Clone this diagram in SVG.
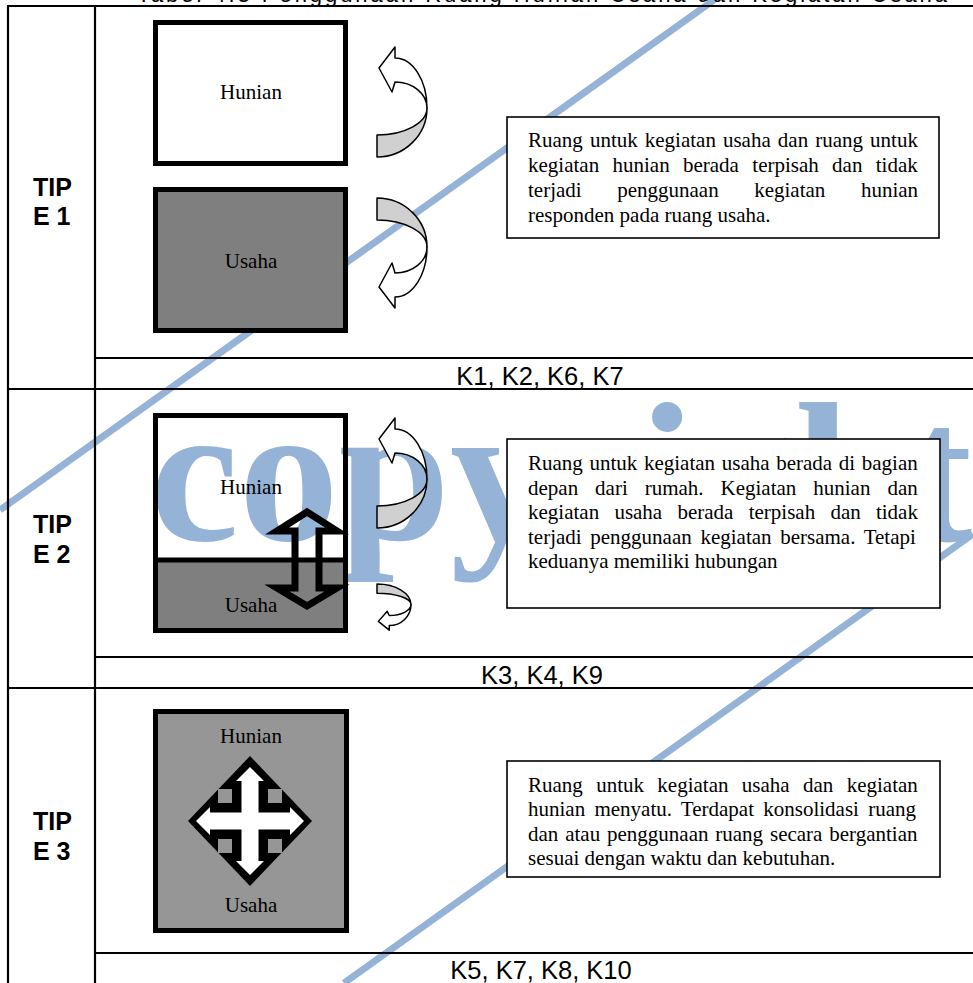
<svg xmlns="http://www.w3.org/2000/svg" xmlns:xlink="http://www.w3.org/1999/xlink" width="973" height="983" viewBox="0 0 973 983">
<style>
.tbl{stroke:#000;stroke-width:2.2;fill:none}
.wm{stroke:#95b3d7;stroke-width:7;fill:none}
.wmt{font-family:"Liberation Serif",serif;font-weight:bold;font-size:200px;fill:#95b3d7}
.room{stroke:#000;stroke-width:5}
.lbl{font-family:"Liberation Serif",serif;font-size:21px;fill:#000;text-anchor:middle}
.desc{font-family:"Liberation Serif",serif;font-size:21px;fill:#000}
.dbox{fill:#fff;stroke:#000;stroke-width:1.6}
.tip{font-family:"Liberation Sans",Arial,sans-serif;font-weight:bold;font-size:25px;fill:#000}
.kl{font-family:"Liberation Sans",Arial,sans-serif;font-size:25.5px;fill:#000;text-anchor:middle}
.cg{fill:#d0d0d0;stroke:#000;stroke-width:1.5;vector-effect:non-scaling-stroke;stroke-linejoin:round}
.cw{fill:#fff;stroke:#000;stroke-width:1.5;vector-effect:non-scaling-stroke;stroke-linejoin:round}
</style>
<defs>
<g id="curl">
<path class="cg" d="M427,108 A50,49 0 0 1 377,157 L377,135 A50,27 0 0 0 427,108 Z"/>
<path class="cw" d="M427,108 A32,50 0 0 0 395,58 L395,47 L379,68 L392,92 L395,82 A32,26 0 0 1 427,108 Z"/>
</g>
</defs>
<rect x="0" y="0" width="973" height="983" fill="#fff"/>
<text x="137" y="2" textLength="810" lengthAdjust="spacing" style="font-family:'Liberation Sans',Arial,sans-serif;font-size:22px">Tabel 4.3 Penggunaan Ruang Hunian Usaha dan Kegiatan Usaha</text>
<g id="watermark">
<line class="wm" x1="714" y1="0" x2="0" y2="510"/>
<line class="wm" x1="973" y1="534" x2="344" y2="983"/>
<text class="wmt" x="150" y="540">copyright</text>
</g>
<g id="table">
<path class="tbl" d="M7,6 H973 M8,6 V983 M95,6 V983 M95,358 H973 M8,389 H973 M95,657 H973 M8,688 H973 M95,953 H973"/>
<text class="tip" x="33" y="196">TIP</text>
<text class="tip" x="33" y="225">E 1</text>
<text class="tip" x="33" y="533">TIP</text>
<text class="tip" x="33" y="563">E 2</text>
<text class="tip" x="33" y="830">TIP</text>
<text class="tip" x="33" y="860">E 3</text>
<text class="kl" x="540" y="385">K1, K2, K6, K7</text>
<text class="kl" x="542" y="684">K3, K4, K9</text>
<text class="kl" x="541" y="979">K5, K7, K8, K10</text>
</g>
<g id="tipe1-hunian">
<rect class="room" x="155.5" y="22.5" width="190" height="141" fill="#fff"/>
<text class="lbl" x="251" y="99">Hunian</text>
</g>
<g id="tipe1-usaha">
<rect class="room" x="155.5" y="189.5" width="190" height="141" fill="#7f7f7f"/>
<text class="lbl" x="251" y="268">Usaha</text>
</g>
<g id="tipe2-rumah">
<rect x="155.5" y="560" width="190" height="71" fill="#7f7f7f"/>
<rect class="room" x="155.5" y="415.5" width="190" height="215" fill="none"/>
<line x1="153" y1="560" x2="348" y2="560" stroke="#000" stroke-width="5"/>
<text class="lbl" x="251" y="494">Hunian</text>
<text class="lbl" x="251" y="612">Usaha</text>
<path d="M307,512 L337,531 L319,531 L319,588 L337,588 L307,606 L277,588 L295,588 L295,531 L277,531 Z" fill="none" stroke="#000" stroke-width="7" stroke-linejoin="miter"/>
</g>
<g id="tipe3-rumah">
<rect class="room" x="155.5" y="711.5" width="191" height="219" fill="#969696"/>
<text class="lbl" x="251" y="743">Hunian</text>
<text class="lbl" x="251" y="912">Usaha</text>
<path d="M188,821 L250,756 L312,821 L250,886 Z" fill="#000"/>
<path d="M250,767 L264,781 L258.5,781 L258.5,812.5 L290,812.5 L290,807 L304,821 L290,835 L290,829.5 L258.5,829.5 L258.5,861 L264,861 L250,875 L236,861 L241.5,861 L241.5,829.5 L210,829.5 L210,835 L196,821 L210,807 L210,812.5 L241.5,812.5 L241.5,781 L236,781 Z" fill="#fff"/>
<rect x="218" y="789" width="14" height="14" fill="#969696"/>
<rect x="268" y="789" width="14" height="14" fill="#969696"/>
<rect x="218" y="839" width="14" height="14" fill="#969696"/>
<rect x="268" y="839" width="14" height="14" fill="#969696"/>
</g>
<g id="connectors">
<use xlink:href="#curl"/>
<use xlink:href="#curl" transform="matrix(1 0 0 -1 0 355)"/>
<use xlink:href="#curl" transform="translate(0 371)"/>
<use xlink:href="#curl" transform="matrix(0.68 0 0 -0.42 120.64 649.94)"/>
</g>
<g id="desc1">
<rect class="dbox" x="507" y="117" width="432" height="121"/>
<text class="desc" x="528" y="147" style="word-spacing:1.8px">Ruang untuk kegiatan usaha dan ruang untuk</text>
<text class="desc" x="528" y="172" style="word-spacing:8.1px">kegiatan hunian berada terpisah dan tidak</text>
<text class="desc" x="528" y="197" style="word-spacing:30.3px">terjadi penggunaan kegiatan hunian</text>
<text class="desc" x="528" y="222">responden pada ruang usaha.</text>
</g>
<g id="desc2">
<rect class="dbox" x="507" y="439" width="433" height="169"/>
<text class="desc" x="528" y="470" style="word-spacing:1.4px">Ruang untuk kegiatan usaha berada di bagian</text>
<text class="desc" x="528" y="494.5" style="word-spacing:11.7px">depan dari rumah. Kegiatan hunian dan</text>
<text class="desc" x="528" y="519" style="word-spacing:10px">kegiatan usaha berada terpisah dan tidak</text>
<text class="desc" x="528" y="543.5" style="word-spacing:3.4px">terjadi penggunaan kegiatan bersama. Tetapi</text>
<text class="desc" x="528" y="568">keduanya memiliki hubungan</text>
</g>
<g id="desc3">
<rect class="dbox" x="507" y="761" width="433" height="116"/>
<text class="desc" x="528" y="792" style="word-spacing:8.1px">Ruang untuk kegiatan usaha dan kegiatan</text>
<text class="desc" x="528" y="816" style="word-spacing:4px">hunian menyatu. Terdapat konsolidasi ruang</text>
<text class="desc" x="528" y="841" style="word-spacing:1.6px">dan atau penggunaan ruang secara bergantian</text>
<text class="desc" x="528" y="865">sesuai dengan waktu dan kebutuhan.</text>
</g>
</svg>
